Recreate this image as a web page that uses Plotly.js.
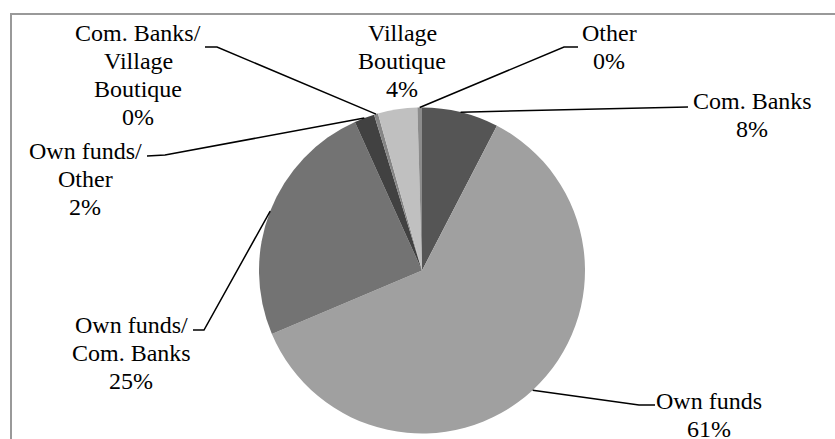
<!DOCTYPE html>
<html>
<head>
<meta charset="utf-8">
<script src="https://cdn.plot.ly/plotly-3.0.1.min.js"></script>
<style>html,body{margin:0;padding:0;background:#fff;}#chart{width:835px;height:439px;}</style>
</head>
<body>
<div id="chart"></div>
<script>
// ---- data ----
const categories = ["Com. Banks", "Own funds", "Own funds/ Com. Banks", "Own funds/ Other",
                    "Com. Banks/ Village Boutique", "Village Boutique", "Other"];
const labelLines = [["Com. Banks"], ["Own funds"], ["Own funds/", "Com. Banks"], ["Own funds/", "Other"],
                    ["Com. Banks/", "Village", "Boutique"], ["Village", "Boutique"], ["Other"]];
const shares = [7.6, 61.0, 24.6, 2.0, 0.4, 3.9, 0.45];
const sliceColors = ["#555555", "#a0a0a0", "#737373", "#414141", "#858585", "#c0c0c0", "#8c8c8c"];

// ---- layout geometry (pixels) ----
const W = 835, H = 439;
const CX = 422, CY = 270.5, R = 163;
const FS = 24, LS = 28;
const FONT = "Times New Roman";
// label placement: centre x, first line centre y, leader elbow + end (null = no leader)
const labelPos = [
  {x: 752, y: 101, leader: [[688, 107]]},
  {x: 709, y: 401, leader: [[639, 405], [655, 405]]},
  {x: 131, y: 325, leader: [[204, 330], [193, 330]]},
  {x: 85,  y: 151, leader: [[165, 155], [147, 156]]},
  {x: 138, y: 33,  leader: [[217, 47], [205, 47]]},
  {x: 402, y: 33,  leader: null},
  {x: 609, y: 33,  leader: [[564, 47], [578, 47]]}
];

const px = x => x / W;
const py = y => 1 - y / H;

const total = shares.reduce((a, b) => a + b, 0);
const annotations = [];
const shapes = [];
let cum = 0;
shares.forEach((v, i) => {
  const mid = (cum + v / 2) / total;
  cum += v;
  const ang = mid * 2 * Math.PI; // clockwise from 12 o'clock
  const sx = CX + R * Math.sin(ang), sy = CY - R * Math.cos(ang);
  const pct = Math.round(v / total * 100) + "%";
  const lines = labelLines[i].concat([pct]);
  const p = labelPos[i];
  lines.forEach((t, k) => {
    annotations.push({
      text: t, showarrow: false, xref: "paper", yref: "paper",
      x: px(p.x), y: py(p.y + k * LS), xanchor: "center", yanchor: "middle",
      font: {family: FONT, size: FS, color: "#000000"}
    });
  });
  if (p.leader) {
    let d = "M" + px(sx) + "," + py(sy);
    p.leader.forEach(q => { d += " L" + px(q[0]) + "," + py(q[1]); });
    shapes.push({type: "path", xref: "paper", yref: "paper", path: d,
                 line: {color: "#000", width: 1.5}});
  }
});
// chart frame
shapes.push({type: "path", xref: "paper", yref: "paper",
             path: "M" + px(11) + "," + py(445) + " L" + px(11) + "," + py(14) + " L" + px(845) + "," + py(14),
             line: {color: "#999999", width: 2}});

const trace = {
  type: "pie", labels: categories, values: shares, sort: false,
  direction: "clockwise", rotation: 0, textinfo: "none", hoverinfo: "skip",
  marker: {colors: sliceColors, line: {width: 0}},
  domain: {x: [px(CX - R), px(CX + R)], y: [py(CY + R), py(CY - R)]},
  showlegend: false
};

Plotly.newPlot("chart", [trace], {
  width: W, height: H, margin: {l: 0, r: 0, t: 0, b: 0},
  paper_bgcolor: "#ffffff", font: {family: FONT}, showlegend: false,
  annotations: annotations, shapes: shapes
}, {displayModeBar: false, staticPlot: true});
</script>
</body>
</html>
